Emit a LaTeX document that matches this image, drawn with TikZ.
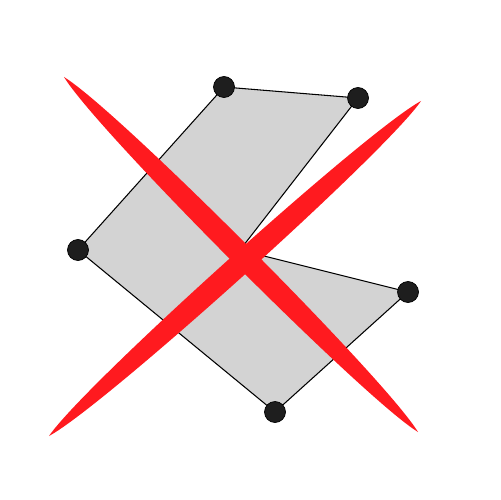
\documentclass[tikz,border=0pt]{standalone}
\usepackage{tikz}

\definecolor{shapegray}{HTML}{D3D3D3}
\definecolor{dotblack}{HTML}{1E1E1E}
\definecolor{crossred}{HTML}{FF1A1F}

\tikzset{
    vertexdot/.style={circle, draw=black, line width=0.4pt, fill=dotblack, minimum size=0.42cm, inner sep=0pt},
    polyline/.style={draw=black, line width=0.6pt, fill=shapegray, line join=round},
    crossleaf/.style={fill=crossred, draw=none}
}

\begin{document}
\begin{tikzpicture}[x=0.02cm, y=-0.02cm]
\useasboundingbox (0,0) rectangle (500,500);

% polygon corners
\coordinate (p1) at (224,87);
\coordinate (p2) at (358,98);
\coordinate (p3) at (240,250);
\coordinate (p4) at (408,292);
\coordinate (p5) at (275,412);
\coordinate (p6) at (78,250);

\path[polyline] (p1) -- (p2) -- (p3) -- (p4) -- (p5) -- (p6) -- cycle;

\foreach \v in {p1, p2, p4, p5, p6}
    \node[vertexdot] (dot-\v) at (\v) {};

% the red cross
\coordinate (s1a) at (64,77);
\coordinate (s1b) at (418,432);
\coordinate (s2a) at (49,436);
\coordinate (s2b) at (421,101);

\fill[crossleaf] (s1a) .. controls (116.9,109.2) and (385.9,379.0) .. (s1b)
                      .. controls (365.1,399.8) and (96.1,130.0) .. (s1a) -- cycle;
\fill[crossleaf] (s2a) .. controls (103.4,406.7) and (386.2,152.1) .. (s2b)
                      .. controls (366.6,130.3) and (83.8,384.9) .. (s2a) -- cycle;
\end{tikzpicture}
\end{document}
